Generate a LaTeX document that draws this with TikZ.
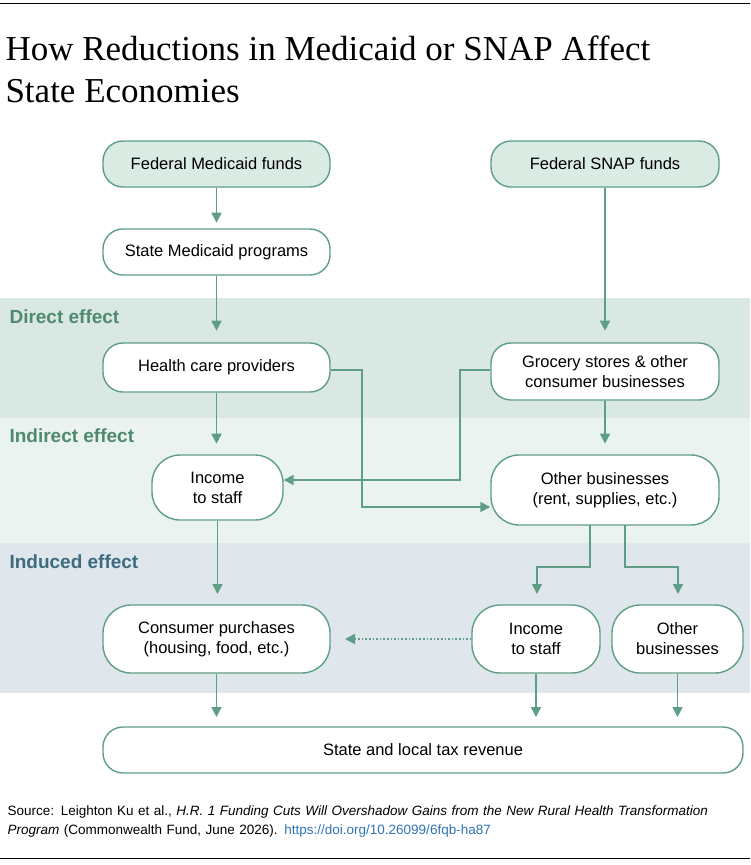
\documentclass[tikz,border=0pt]{standalone}
\usepackage{fontspec}
\setmainfont{Liberation Sans}
\newfontfamily\titlefont{Liberation Serif}
\usetikzlibrary{arrows.meta}
\definecolor{edge}{HTML}{5E9E87}
\definecolor{fillg}{HTML}{DAEBE4}
\definecolor{bandA}{HTML}{DAE8E3}
\definecolor{bandB}{HTML}{EBF3F0}
\definecolor{bandC}{HTML}{DFE7EC}
\definecolor{labG}{HTML}{4F8A70}
\definecolor{labB}{HTML}{3F6B80}
\definecolor{link}{HTML}{2F74B5}
\begin{document}
\begin{tikzpicture}[x=1pt,y=-1pt,
  box/.style={draw=edge,line width=1.4pt,rounded corners=20pt,fill=white,align=center,font=\fontsize{16.5}{20}\selectfont,inner sep=0pt},
  fbox/.style={box,fill=fillg},
  arr/.style={draw=edge,line width=1.6pt,-{Triangle[length=10pt,width=10pt]}},
  lab/.style={anchor=west,font=\fontsize{19}{21}\selectfont\bfseries}]
\useasboundingbox (0,0) rectangle (750,865);
\fill[bandA] (0,298) rectangle (750,418);
\fill[bandB] (0,418) rectangle (750,543);
\fill[bandC] (0,543) rectangle (750,693);
\draw[line width=0.6pt] (0,3) -- (750,3);
\draw[line width=0.6pt] (0,858) -- (750,858);
\node[anchor=west,font=\titlefont\fontsize{35}{42}\selectfont,align=left] (title) at (2,69) {How Reductions in Medicaid or SNAP Affect\\State Economies};
\node[lab,text=labG] (d) at (6,317) {Direct effect};
\node[lab,text=labG] (i) at (6,436) {Indirect effect};
\node[lab,text=labB] (u) at (6,562) {Induced effect};
\node[fbox,minimum width=227pt,minimum height=46pt] (fm) at (216.5,164) {Federal Medicaid funds};
\node[fbox,minimum width=228pt,minimum height=46pt] (fs) at (605,164) {Federal SNAP funds};
\node[box,minimum width=227pt,minimum height=46pt] (sm) at (216.5,252) {State Medicaid programs};
\node[box,minimum width=227pt,minimum height=49pt] (hc) at (216.5,367.5) {Health care providers};
\node[box,minimum width=228pt,minimum height=57pt] (gs) at (605,371.5) {Grocery stores \& other\\consumer businesses};
\node[box,minimum width=131pt,minimum height=65pt,rounded corners=28pt] (is) at (217.5,487.5) {Income\\to staff};
\node[box,minimum width=228pt,minimum height=70pt,rounded corners=28pt] (ob) at (605,490) {Other businesses\\(rent, supplies, etc.)};
\node[box,minimum width=227pt,minimum height=68pt,rounded corners=28pt] (cp) at (216.5,639) {Consumer purchases\\(housing, food, etc.)};
\node[box,minimum width=128pt,minimum height=68pt,rounded corners=28pt] (is2) at (536,639) {Income\\to staff};
\node[box,minimum width=131pt,minimum height=68pt,rounded corners=28pt] (ob2) at (677.5,639) {Other\\businesses};
\node[box,minimum width=640pt,minimum height=46pt] (tax) at (423,750) {State and local tax revenue};
\draw[arr] (fm.south) -- ++(0,35);
\draw[arr] (sm.south) -- ++(0,55);
\draw[arr] (fs.south) -- ++(0,143);
\draw[arr] (hc.south) -- ++(0,51);
\draw[arr] (gs.south) -- ++(0,43);
\draw[arr] (hc.east |- 0,370) -- (362,370) -- (362,507) -- (ob.west |- 0,507);
\draw[arr] (gs.west |- 0,370) -- (460,370) -- (460,480) -- (is.east |- 0,480);
\draw[arr] (590,525) -- (590,567) -- (537,567) -- (537,594);
\draw[arr] (625,525) -- (625,567) -- (678,567) -- (678,594);
\draw[arr,dotted] (is2.west) -- (345,639);
\draw[arr] (is.south) -- (217.5,594);
\draw[arr] (cp.south) -- (216.5,717);
\draw[arr] (is2.south) -- (536,717);
\draw[arr] (ob2.south) -- (677.5,717);
\node[anchor=north west,align=left,font=\fontsize{13.5}{19}\selectfont,text width=735pt] (src) at (4,802) {\raggedright Source: Leighton Ku et al., \textit{H.R. 1 Funding Cuts Will Overshadow Gains from the New Rural Health Transformation}\\\textit{Program} (Commonwealth Fund, June 2026). \textcolor{link}{https://doi.org/10.26099/6fqb-ha87}};
\end{tikzpicture}
\end{document}
